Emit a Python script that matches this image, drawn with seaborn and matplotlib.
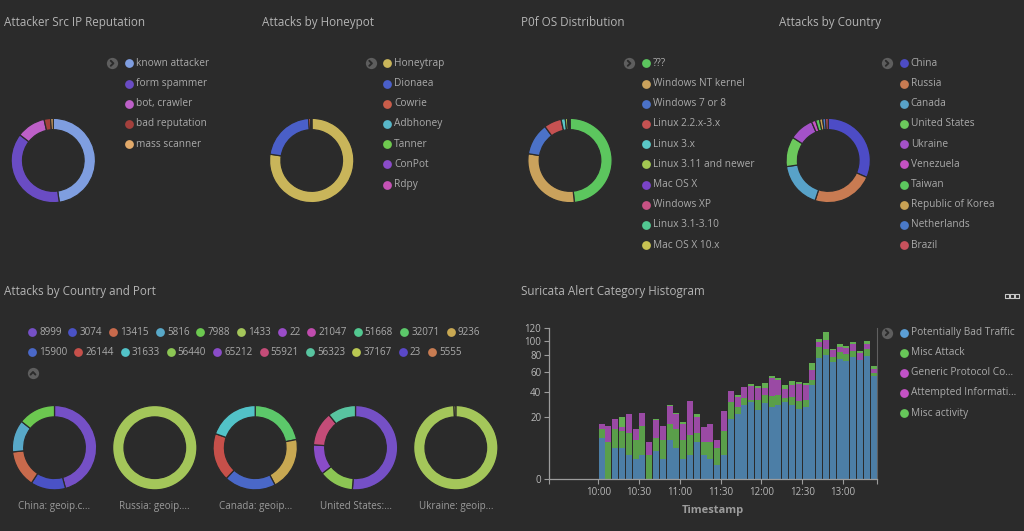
import matplotlib
matplotlib.use("Agg")
import matplotlib.pyplot as plt
import seaborn as sns
import pandas as pd
import numpy as np

# ── Look ──────────────────────────────────────────────────────────────────────
BG       = "#2b2b2b"
TITLE_C  = "#b4b4b4"
TEXT_C   = "#aaaaaa"
ICON_C   = "#5e5e5e"
AXIS_C   = "#9c9c9c"
W, H     = 1024, 531

# ── Data: donuts ──────────────────────────────────────────────────────────────
rep_labels = ["known attacker", "form spammer", "bot, crawler", "bad reputation", "mass scanner"]
rep_values = [47.5, 37.5, 11.0, 2.5, 1.0]
rep_colors = ["#7f9ee0", "#6a4cc4", "#bd60c8", "#a3403c", "#e2aa6a"]

pot_labels = ["Honeytrap", "Dionaea", "Cowrie", "Adbhoney", "Tanner", "ConPot", "Rdpy"]
pot_values = [77.4, 21.4, 0.8, 0.2, 0.1, 0.05, 0.05]
pot_colors = ["#c9b55a", "#4a5fc8", "#c85d4a", "#58b6c8", "#6fc94f", "#8a4cc8", "#c452b4"]

os_labels = ["???", "Windows NT kernel", "Windows 7 or 8", "Linux 2.2.x-3.x", "Linux 3.x",
             "Linux 3.11 and newer", "Mac OS X", "Windows XP", "Linux 3.1-3.10", "Mac OS X 10.x"]
os_values = [48.3, 29.2, 12.3, 6.7, 1.6, 0.9, 0.3, 0.2, 0.2, 0.2]
os_colors = ["#5cc65e", "#caa25c", "#4b72c8", "#c65252", "#5ac8c8",
             "#a4c852", "#7a44c8", "#c85284", "#52c892", "#c8c252"]

cty_labels = ["China", "Russia", "Canada", "United States", "Ukraine", "Venezuela",
              "Taiwan", "Republic of Korea", "Netherlands", "Brazil"]
cty_values = [31.3, 23.3, 17.5, 11.4, 9.3, 1.6, 1.5, 1.2, 1.1, 1.0]
cty_colors = ["#4d4cc6", "#c87b52", "#58a2c8", "#6cc95c", "#a452c8", "#c452c2",
              "#5cc85e", "#c9a254", "#4a7ac8", "#c8525c"]

# ── Data: country / port ──────────────────────────────────────────────────────
port_labels = ["8999", "3074", "13415", "5816", "7988", "1433", "22", "21047", "51668",
               "32071", "9236", "15900", "26144", "31633", "56440", "65212", "55921",
               "56323", "37167", "23", "5555"]
port_colors = ["#7550c6", "#4a52c6", "#c86a4c", "#58a8c8", "#6cc850", "#a4c65a",
               "#9a4cc8", "#c04cae", "#52c890", "#5cc86a", "#c8a852", "#4a68c8",
               "#c6504a", "#52c2c8", "#8cc654", "#8a4cc8", "#c44c78", "#58c4a0",
               "#bac852", "#5a48c8", "#c87c52"]

cp_countries = ["China: geoip.c...", "Russia: geoip....", "Canada: geoip...",
                "United States:...", "Ukraine: geoip..."]
cp_ports = [["8999", "3074", "13415", "5816", "7988"],
            ["1433"],
            ["32071", "9236", "15900", "26144", "31633"],
            ["8999", "56440", "65212", "55921", "56323"],
            ["1433", "37167"]]
cp_values = [[45.8, 13.4, 14.2, 12.3, 14.3],
             [100.0],
             [21.9, 20.3, 19.8, 18.4, 19.6],
             [51.2, 13.3, 11.6, 13.1, 10.8],
             [99.3, 0.7]]

# ── Data: suricata histogram (5 min buckets) ──────────────────────────────────
time_bins = pd.date_range("2018-01-01 10:00", periods=41, freq="5min")
cat_labels = ["Potentially Bad Traffic", "Misc Attack", "Generic Protocol Command Decode",
              "Attempted Information Leak", "Misc activity"]
legend_cat_labels = ["Potentially Bad Traffic", "Misc Attack", "Generic Protocol Co...",
                     "Attempted Informati...", "Misc activity"]
bad_traffic = [9, 0, 5, 5, 3, 2, 3, 0, 4, 2, 8, 5, 2, 3, 7, 3, 2, 1, 3, 19,
               22, 29, 31, 25, 30, 27, 29, 31, 29, 26, 27, 46, 77, 80, 72, 76, 73, 78, 74, 79, 56]
misc_attack = [4, 7, 8, 7, 8, 6, 12, 3, 5, 6, 8, 8, 6, 7, 4, 4, 5, 4, 9, 12,
               5, 5, 2, 8, 7, 9, 8, 3, 6, 6, 6, 5, 14, 8, 6, 8, 9, 8, 0, 10, 3]
generic_protocol = [3, 8, 6, 2, 11, 5, 8, 4, 9, 7, 12, 9, 8, 22, 9, 7, 9, 3, 12, 10,
                    8, 10, 12, 10, 6, 18, 14, 8, 11, 15, 13, 11, 7, 14, 9, 8, 8, 9, 9, 7, 5]
attempted_info = [0] * 41
misc_activity = [0, 0, 0, 6, 0, 0, 0, 0, 1, 0, 1, 1, 1, 0, 2, 0, 0, 0, 0, 0,
                 2, 0, 2, 2, 5, 2, 3, 4, 4, 2, 2, 9, 5, 11, 2, 3, 3, 4, 3, 4, 3]
bar_colors = ["#4c7ea6", "#5a9f4a", "#9a4aa4", "#9e4ca6", "#63ae52"]
dot_colors = ["#5b9fd6", "#68c858", "#c052c8", "#c452c4", "#66c85a"]
hist_ticks = ["10:00", "10:30", "11:00", "11:30", "12:00", "12:30", "13:00"]

# ── Layout (pixels) ───────────────────────────────────────────────────────────
top_panels_x = [0, 258.5, 517, 775]
top_donut_cx = [53.3, 311.7, 570.0, 828.2]
top_donut_cy = 160.5
legend_row_y = [63.3, 83.5, 103.7, 123.9, 144.1, 164.3, 184.5, 204.7, 224.9, 245.1]
bottom_donut_cx = [54.5, 154.8, 255.2, 355.5, 455.8]
bottom_donut_cy = 447.7
port_row1_x = [32, 72.3, 113.3, 160, 200.3, 241, 282, 311.3, 357.7, 404.3, 450.7]
port_row2_x = [32, 78.3, 125, 170.7, 217.3, 263.7, 310, 356.3, 403, 432.3]
DONUT_R = 42.6

sns.set_theme(style="dark", rc={"axes.facecolor": BG, "figure.facecolor": BG})
plt.rcParams["font.family"] = ["Open Sans", "DejaVu Sans"]

fig = plt.figure(figsize=(W / 100, H / 100), dpi=100)
fig.patch.set_facecolor(BG)


def px_axes(x, y, w, h):
    return fig.add_axes([x / W, 1 - (y + h) / H, w / W, h / H])


def donut(cx, cy, values, colors):
    ax = px_axes(cx - DONUT_R, cy - DONUT_R, 2 * DONUT_R, 2 * DONUT_R)
    ax.pie(values, colors=colors, startangle=90, counterclock=False, radius=1,
           wedgeprops=dict(width=0.27, edgecolor=BG, linewidth=0.9))
    ax.set_xlim(-1.01, 1.01)
    ax.set_ylim(-1.01, 1.01)
    ax.axis("off")
    return ax


# ── Top row donuts ────────────────────────────────────────────────────────────
top_sets = [(rep_values, rep_colors), (pot_values, pot_colors),
            (os_values, os_colors), (cty_values, cty_colors)]
for cx, (vals, cols) in zip(top_donut_cx, top_sets):
    donut(cx, top_donut_cy, vals, cols)

# ── Country & port donuts ─────────────────────────────────────────────────────
port_color_map = dict(zip(port_labels, port_colors))
for cx, ports, vals in zip(bottom_donut_cx, cp_ports, cp_values):
    donut(cx, bottom_donut_cy, vals, [port_color_map[p] for p in ports])

# ── Suricata histogram ────────────────────────────────────────────────────────
minutes = list(time_bins.hour * 60 + time_bins.minute)
series = [bad_traffic, misc_attack, generic_protocol, attempted_info, misc_activity]
hist_df = pd.concat([pd.DataFrame({"minute": minutes, "category": c, "count": v})
                     for c, v in zip(cat_labels, series)], ignore_index=True)

hx0, hx1, hy0, hy1 = 549, 877, 327.7, 479
hax = px_axes(hx0, hy0, hx1 - hx0, hy1 - hy0)
sns.histplot(data=hist_df, x="minute", weights="count", hue="category",
             hue_order=cat_labels[::-1], palette=dict(zip(cat_labels, bar_colors)),
             multiple="stack", binwidth=5, binrange=(minutes[0], minutes[-1] + 5),
             shrink=0.88, linewidth=0, alpha=1, legend=False, ax=hax)
hax.set_yscale("function", functions=(lambda v: np.sqrt(np.clip(v, 0, None)),
                                      lambda v: np.square(v)))
hax.set_ylim(0, 120)
hax.set_yticks([0, 20, 40, 60, 80, 100, 120])
hax.set_yticklabels(["0", "20", "40", "60", "80", "100", "120"])
x_lo, x_hi = 563.75, 805.0
hax.set_xlim(x_lo, x_hi)
tick_pos = [x_lo] + [int(t[:2]) * 60 + int(t[3:]) for t in hist_ticks] + [x_hi]
hax.set_xticks(tick_pos)
hax.set_xticklabels([""] + hist_ticks + [""])
hax.set_facecolor(BG)
hax.grid(False)
hax.set_ylabel("")
hax.set_xlabel("Timestamp", color=AXIS_C, fontsize=8, fontweight="bold", labelpad=5)
hax.tick_params(axis="both", colors=AXIS_C, labelcolor="#b8b8b8", labelsize=7,
                length=3.5, width=0.8, direction="out", pad=2)
hax.tick_params(axis="x", bottom=True)
hax.tick_params(axis="y", left=True)
for side in ["left", "bottom"]:
    hax.spines[side].set_visible(True)
    hax.spines[side].set_color(AXIS_C)
    hax.spines[side].set_linewidth(0.9)
hax.spines["top"].set_visible(False)
hax.spines["right"].set_visible(True)
hax.spines["right"].set_color("#606060")
hax.spines["right"].set_linewidth(0.8)

# ── Overlay for titles, legends, icons ────────────────────────────────────────
ov = fig.add_axes([0, 0, 1, 1])
ov.set_xlim(0, W)
ov.set_ylim(H, 0)
ov.axis("off")
ov.patch.set_alpha(0)


def chevron(x, y, up=False):
    ov.scatter([x], [y], s=66, color=ICON_C, linewidths=0, zorder=5)
    if up:
        ov.plot([x - 2.4, x, x + 2.4], [y + 1.3, y - 1.3, y + 1.3], color=BG, lw=1.4,
                solid_capstyle="round", zorder=6)
    else:
        ov.plot([x - 1.2, x + 1.4, x - 1.2], [y - 2.5, y, y + 2.5], color=BG, lw=1.4,
                solid_capstyle="round", zorder=6)


def legend_item(x, y, label, color, size=7.3):
    ov.scatter([x], [y], s=40, color=color, linewidths=0, zorder=5)
    ov.text(x + 7, y, label, color=TEXT_C, fontsize=size, va="center", ha="left")


titles = ["Attacker Src IP Reputation", "Attacks by Honeypot", "P0f OS Distribution",
          "Attacks by Country"]
top_legends = [(rep_labels, rep_colors), (pot_labels, pot_colors),
               (os_labels, os_colors), (cty_labels, cty_colors)]
for px, title, (labs, cols) in zip(top_panels_x, titles, top_legends):
    ov.text(px + 4, 22.8, title, color=TITLE_C, fontsize=8.4, va="center", ha="left")
    chevron(px + 112, legend_row_y[0])
    for lab, col, yy in zip(labs, cols, legend_row_y):
        legend_item(px + 128.7, yy, lab, col)

ov.text(4, 291.8, "Attacks by Country and Port", color=TITLE_C, fontsize=8.4, va="center")
ov.text(521, 291.8, "Suricata Alert Category Histogram", color=TITLE_C, fontsize=8.4,
        va="center")

for lab, col, xx in zip(port_labels[:11], port_colors[:11], port_row1_x):
    legend_item(xx, 332.3, lab, col, size=7.1)
for lab, col, xx in zip(port_labels[11:], port_colors[11:], port_row2_x):
    legend_item(xx, 352.3, lab, col, size=7.1)
chevron(33, 373.3, up=True)

for cx, lab in zip(bottom_donut_cx, cp_countries):
    ov.text(cx, 506.7, lab, color="#9a9a9a", fontsize=7.1, ha="center", va="center")

chevron(887, 332.7)
for i, (lab, col) in enumerate(zip(legend_cat_labels, dot_colors)):
    legend_item(903.7, 332.7 + i * 20.1, lab, col)

# "more" icon, top right of histogram panel
ov.scatter([1007, 1012, 1017], [296, 296, 296], s=7, marker="s", facecolors="none",
           edgecolors="#c8c8c8", linewidths=0.8)

fig.savefig("out.png", dpi=100, facecolor=BG)
